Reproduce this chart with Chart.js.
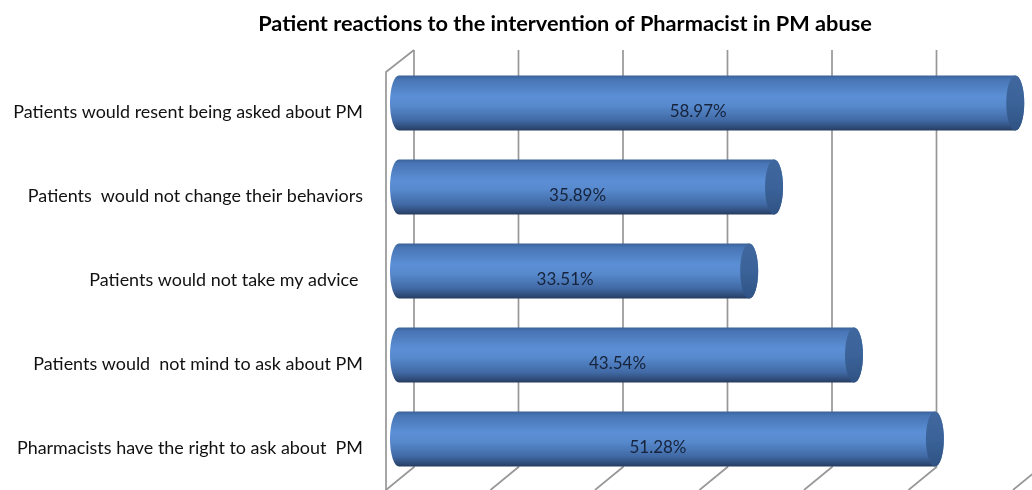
<!DOCTYPE html>
<html><head><meta charset="utf-8">
<script src="https://cdn.jsdelivr.net/npm/chart.js@4"></script>
<style>html,body{margin:0;padding:0;background:#fff;overflow:hidden}</style>
</head><body>
<canvas id="c" width="1032" height="490"></canvas>
<script>
const titleText = 'Patient reactions to the intervention of Pharmacist in PM abuse';
const categories = [
  'Patients would resent being asked about PM',
  'Patients  would not change their behaviors',
  'Patients would not take my advice ',
  'Patients would  not mind to ask about PM',
  'Pharmacists have the right to ask about  PM'
];
const values = [58.97, 35.89, 33.51, 43.54, 51.28];
const valueLabels = ['58.97%', '35.89%', '33.51%', '43.54%', '51.28%'];
const xTicks = [0, 10, 20, 30, 40, 50, 60];

const FAMILY = 'Lato, "Open Sans", "DejaVu Sans", sans-serif';
const mctx = document.createElement('canvas').getContext('2d');
function fitSize(text, weight, target) {
  mctx.font = weight + ' 100px ' + FAMILY;
  return 100 * target / mctx.measureText(text).width;
}
const titleSize = fitSize(titleText, 'bold', 614);
const catSize = fitSize(categories[0], 'normal', 350);
const valSize = fitSize(valueLabels[0], 'normal', 57);

const DEPTH_X = 15;      // offset from bar plane to back wall
const WALL_TOP = 50, WALL_BOTTOM = 467;
const FLOOR_DX = 28, FLOOR_DY = 23;
const BAR_SHIFT = 9;
const TITLE_X = 565, TITLE_Y = 24;

const wallPlugin = {
  id: 'wall',
  beforeDatasetsDraw(chart) {
    const ctx = chart.ctx, xs = chart.scales.x;
    ctx.save();
    ctx.strokeStyle = '#979797';
    ctx.lineWidth = 1.7;
    xTicks.forEach(v => {
      const bx = xs.getPixelForValue(v) + DEPTH_X;
      ctx.beginPath();
      ctx.moveTo(bx, WALL_TOP);
      ctx.lineTo(bx, WALL_BOTTOM);
      ctx.lineTo(bx - FLOOR_DX, WALL_BOTTOM + FLOOR_DY);
      ctx.stroke();
    });
    const b0 = xs.getPixelForValue(0) + DEPTH_X;
    ctx.beginPath();
    ctx.moveTo(b0 - FLOOR_DX, chart.height);
    ctx.lineTo(b0 - FLOOR_DX, WALL_TOP + 22);
    ctx.lineTo(b0, WALL_TOP);
    ctx.stroke();
    ctx.restore();
  },
  afterDatasetsDraw(chart) {
    const ctx = chart.ctx;
    const meta = chart.getDatasetMeta(0);
    ctx.save();
    meta.data.forEach((el, i) => {
      const xsP = el.base, xeP = el.x, h = el.height, yc = el.y - BAR_SHIFT;
      const top = yc - h / 2, bot = yc + h / 2, rx = 9, ry = h / 2;
      const g = ctx.createLinearGradient(0, top, 0, bot);
      g.addColorStop(0, '#3a629a');
      g.addColorStop(0.07, '#4875b4');
      g.addColorStop(0.38, '#5b8fd5');
      g.addColorStop(0.55, '#5789cd');
      g.addColorStop(0.82, '#4069a4');
      g.addColorStop(0.95, '#2e4a76');
      g.addColorStop(1, '#243b5e');
      ctx.beginPath();
      ctx.moveTo(xeP, top);
      ctx.lineTo(xsP, top);
      ctx.ellipse(xsP, yc, rx, ry, 0, -Math.PI / 2, Math.PI / 2, true);
      ctx.lineTo(xeP, bot);
      ctx.ellipse(xeP, yc, rx, ry, 0, Math.PI / 2, -Math.PI / 2, true);
      ctx.closePath();
      ctx.fillStyle = g;
      ctx.fill();
      // end cap
      const cg = ctx.createLinearGradient(0, top, 0, bot);
      cg.addColorStop(0, '#40689f');
      cg.addColorStop(0.5, '#3b6399');
      cg.addColorStop(1, '#2f5283');
      ctx.beginPath();
      ctx.ellipse(xeP, yc, rx, ry, 0, 0, Math.PI * 2);
      ctx.fillStyle = cg;
      ctx.fill();
      // value label
      ctx.fillStyle = '#16233a';
      ctx.font = 'normal ' + valSize + 'px ' + FAMILY;
      ctx.textAlign = 'center';
      ctx.textBaseline = 'middle';
      ctx.fillText(valueLabels[i], (xsP + xeP) / 2 - 9, el.y);
    });
    // chart title
    ctx.fillStyle = '#000';
    ctx.font = 'bold ' + titleSize + 'px ' + FAMILY;
    ctx.textAlign = 'center';
    ctx.textBaseline = 'middle';
    ctx.fillText(titleText, TITLE_X, TITLE_Y);
    ctx.restore();
  }
};

new Chart(document.getElementById('c'), {
  type: 'bar',
  data: {
    labels: categories,
    datasets: [{
      data: values,
      backgroundColor: 'rgba(0,0,0,0)',
      borderWidth: 0,
      barThickness: 55
    }]
  },
  options: {
    indexAxis: 'y',
    responsive: false,
    animation: false,
    devicePixelRatio: 1,
    layout: { padding: { left: 0, right: 6, top: 70, bottom: 0 } },
    plugins: {
      legend: { display: false },
      tooltip: { enabled: false },
      title: { display: false }
    },
    scales: {
      x: {
        display: false,
        min: 0,
        max: 60,
        ticks: { stepSize: 10 }
      },
      y: {
        grid: { display: false },
        border: { display: false },
        ticks: {
          color: '#111',
          padding: 28,
          font: { family: FAMILY, size: catSize }
        },
        afterFit(scale) {
          scale.width = 399;
          scale.paddingTop = 0;
          scale.paddingBottom = 0;
        }
      }
    }
  },
  plugins: [wallPlugin]
});
</script>
</body></html>
